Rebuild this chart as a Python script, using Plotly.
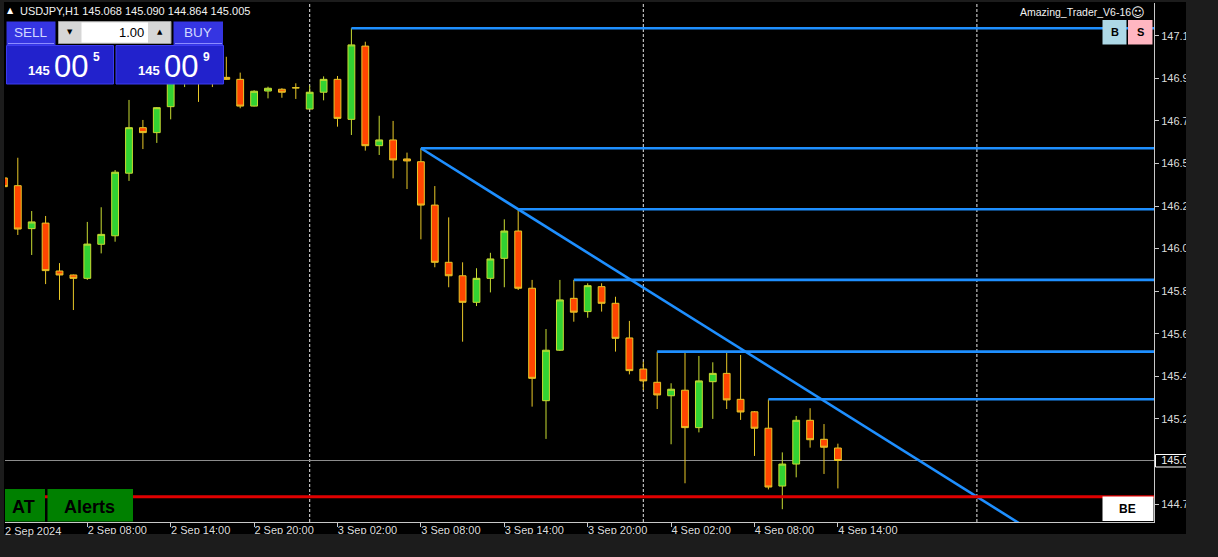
import pandas as pd
import plotly.graph_objects as go

# ---------------- data ----------------
symbol_title = "USDJPY,H1"
first_bar = "2024-09-02 02:00"

opens = [146.432, 146.393, 146.176, 146.204, 145.962, 145.942, 145.925, 146.097, 146.140, 146.456,
         146.686, 146.661, 146.792, 146.952, 146.987, 146.967, 146.940, 146.930, 146.795, 146.871,
         146.880, 146.888, 146.780, 146.865, 146.930, 146.728, 147.098, 146.595, 146.624, 146.528,
         146.514, 146.295, 146.006, 145.938, 145.804, 145.925, 146.026, 146.164, 145.875, 145.307,
         145.562, 145.824, 145.757, 145.883, 145.799, 145.624, 145.467, 145.400, 145.332, 145.360,
         145.171, 145.403, 145.445, 145.314, 145.251, 145.168, 144.876, 144.987, 145.208, 145.112,
         145.068]
highs = [146.447, 146.534, 146.265, 146.240, 146.002, 145.944, 146.210, 146.284, 146.472, 146.826,
         146.725, 146.790, 146.977, 147.028, 147.018, 147.008, 147.044, 146.964, 146.875, 146.893,
         146.885, 146.910, 146.899, 146.945, 146.947, 147.188, 147.120, 146.746, 146.720, 146.560,
         146.582, 146.391, 146.233, 146.006, 145.976, 146.054, 146.223, 146.274, 145.917, 145.669,
         145.917, 145.917, 145.900, 145.900, 145.832, 145.710, 145.504, 145.555, 145.395, 145.551,
         145.533, 145.501, 145.549, 145.538, 145.255, 145.314, 145.046, 145.230, 145.269, 145.189,
         145.090]
lows = [146.371, 146.144, 146.043, 145.896, 145.816, 145.765, 145.917, 146.051, 146.110, 146.417,
        146.578, 146.609, 146.728, 146.891, 146.816, 146.891, 146.927, 146.784, 146.793, 146.834,
        146.837, 146.831, 146.778, 146.824, 146.691, 146.649, 146.570, 146.548, 146.430, 146.376,
        146.122, 145.981, 145.880, 145.605, 145.785, 145.854, 145.880, 145.866, 145.277, 145.114,
        145.558, 145.706, 145.726, 145.757, 145.555, 145.440, 145.361, 145.265, 145.087, 144.890,
        145.147, 145.215, 145.265, 145.210, 145.028, 144.859, 144.759, 144.920, 145.070, 144.937,
        144.864]
closes = [146.388, 146.174, 146.210, 145.964, 145.942, 145.925, 146.098, 146.147, 146.461, 146.686,
          146.661, 146.787, 146.952, 146.987, 146.967, 146.940, 146.930, 146.795, 146.870, 146.885,
          146.865, 146.887, 146.865, 146.930, 146.733, 147.104, 146.595, 146.624, 146.523, 146.518,
          146.295, 146.006, 145.938, 145.804, 145.925, 146.023, 146.164, 145.875, 145.420, 145.562,
          145.816, 145.754, 145.888, 145.799, 145.622, 145.459, 145.407, 145.336, 145.365, 145.171,
          145.407, 145.445, 145.311, 145.250, 145.168, 144.871, 144.987, 145.208, 145.110, 145.072,
          145.005]

level_times = ["2024-09-03 03:00", "2024-09-03 08:00", "2024-09-03 15:00",
               "2024-09-03 19:00", "2024-09-04 01:00", "2024-09-04 09:00"]
level_prices = [147.188, 146.582, 146.274, 145.917, 145.555, 145.314]

trend_times = ["2024-09-03 08:00", "2024-09-03 15:00"]
trend_prices = [146.582, 146.274]

be_price = 144.822
bid_price = 145.005

day_breaks = ["2024-09-03 00:00", "2024-09-04 00:00", "2024-09-05 00:00"]

x_tick_times = ["2024-09-02 08:00", "2024-09-02 14:00", "2024-09-02 20:00", "2024-09-03 02:00",
                "2024-09-03 08:00", "2024-09-03 14:00", "2024-09-03 20:00", "2024-09-04 02:00",
                "2024-09-04 08:00", "2024-09-04 14:00"]
x_tick_labels = ["2 Sep 08:00", "2 Sep 14:00", "2 Sep 20:00", "3 Sep 02:00", "3 Sep 08:00",
                 "3 Sep 14:00", "3 Sep 20:00", "4 Sep 02:00", "4 Sep 08:00", "4 Sep 14:00"]
first_date_label = "2 Sep 2024"

y_tick_values = [147.150, 146.935, 146.720, 146.505, 146.290, 146.075, 145.860,
                 145.645, 145.430, 145.215, 144.785]

x_view = ["2024-09-02 02:04:45", "2024-09-05 12:44:28"]
y_view = [144.6944, 147.3156]

lot_text = "1.00"
sell_parts = ["145", "00", "5"]
buy_parts = ["145", "00", "9"]
indicator_name = "Amazing_Trader_V6-16"

# ---------------- figure ----------------
W, H = 1218, 557
PL, PR, PT, PB = 5, 1154, 3, 522
FONT = "Liberation Sans"


def fx(x):
    return (x - PL) / (PR - PL)


def fy(y):
    return (PB - y) / (PB - PT)


bar_times = pd.date_range(first_bar, periods=len(opens), freq="h")

fig = go.Figure()

fig.add_trace(go.Candlestick(
    x=bar_times, open=opens, high=highs, low=lows, close=closes,
    increasing=dict(fillcolor="#32d232", line=dict(color="#c8dc32", width=1)),
    decreasing=dict(fillcolor="#ff4500", line=dict(color="#e8c828", width=1)),
    whiskerwidth=0, showlegend=False, hoverinfo="skip"))

# horizontal resistance levels (start at the candle high, run to the right edge)
for t, p in zip(level_times, level_prices):
    fig.add_trace(go.Scatter(x=[t, x_view[1]], y=[p, p], mode="lines",
                             line=dict(color="#1e8fff", width=2.6),
                             showlegend=False, hoverinfo="skip"))

# trend line through two highs, extended to the right
t0, t1 = pd.Timestamp(trend_times[0]), pd.Timestamp(trend_times[1])
slope = (trend_prices[1] - trend_prices[0]) / ((t1 - t0) / pd.Timedelta(hours=1))
t_end = pd.Timestamp(x_view[1])
p_end = trend_prices[0] + slope * ((t_end - t0) / pd.Timedelta(hours=1))
fig.add_trace(go.Scatter(x=[t0, t_end], y=[trend_prices[0], p_end], mode="lines",
                         line=dict(color="#1e8fff", width=2.6),
                         showlegend=False, hoverinfo="skip"))

# break-even line
fig.add_trace(go.Scatter(x=[x_view[0], x_view[1]], y=[be_price, be_price], mode="lines",
                         line=dict(color="#e00000", width=2.8),
                         showlegend=False, hoverinfo="skip"))

# invisible trace that activates the bid-price axis
fig.add_trace(go.Scatter(x=[x_view[0]], y=[bid_price], yaxis="y2", mode="markers",
                         marker=dict(opacity=0), showlegend=False, hoverinfo="skip"))

shapes = []
annotations = []

# day separators
for d in day_breaks:
    shapes.append(dict(type="line", xref="x", yref="paper", x0=d, x1=d, y0=0, y1=1,
                       line=dict(color="#e6e6e6", width=1, dash="3px,2px"), layer="below"))
# bid line
shapes.append(dict(type="line", xref="paper", yref="y", x0=0, x1=1, y0=bid_price, y1=bid_price,
                   line=dict(color="#8c8c8c", width=1), layer="below"))


def rect(x0, y0, x1, y1, fill, line=None, lw=1, layer="above"):
    shapes.append(dict(type="rect", xref="paper", yref="paper",
                       x0=fx(x0), x1=fx(x1), y0=fy(y1), y1=fy(y0),
                       fillcolor=fill, layer=layer,
                       line=dict(color=line if line else fill, width=lw if line else 0)))


def hline(x0, x1, y, color, w=1):
    shapes.append(dict(type="line", xref="paper", yref="paper", x0=fx(x0), x1=fx(x1),
                       y0=fy(y), y1=fy(y), line=dict(color=color, width=w), layer="above"))


def txt(x, y, s, size, color, bold=False, xanchor="left", family=FONT):
    annotations.append(dict(xref="paper", yref="paper", x=fx(x), y=fy(y),
                            text=("<b>%s</b>" % s) if bold else s, showarrow=False,
                            xanchor=xanchor, yanchor="middle", borderpad=0,
                            font=dict(size=size, color=color, family=family)))


# ---- one click trading panel ----
rect(6.5, 21.5, 55.5, 45, "#3535e2")
hline(8, 54, 43.5, "#8c8cff")
rect(173.5, 21.5, 223, 45, "#3535e2")
hline(175, 222, 43.5, "#8c8cff")
rect(58.5, 21.5, 171, 43.5, "#d6d6d6", "#9a9a9a")
rect(81.5, 22.5, 148, 42.5, "#ffffff")
rect(6.5, 45.5, 113.5, 84, "#2222cc", "#3c3cf0")
rect(116, 45.5, 223.5, 84, "#2222cc", "#3c3cf0")
txt(31, 33, "SELL", 13.5, "#d2d8ff", xanchor="center")
txt(198, 33, "BUY", 13.5, "#d2d8ff", xanchor="center")
txt(70, 32, "▼", 7, "#000000", xanchor="center", family="DejaVu Sans")
txt(159.5, 32, "▲", 7, "#000000", xanchor="center", family="DejaVu Sans")
txt(145, 32.5, lot_text, 13, "#000000", xanchor="right")
for x0, parts in ((26.5, sell_parts), (136.5, buy_parts)):
    txt(x0, 71, parts[0], 13, "#ffffff", bold=True)
    txt(x0 + 26.5, 66.5, parts[1], 31, "#ffffff")
    txt(x0 + 65, 57.5, parts[2], 12, "#ffffff", bold=True)

# ---- header texts ----
txt(10.5, 10.5, "▲", 8, "#ffffff", xanchor="center", family="DejaVu Sans")
txt(19, 11.3, "%s %.3f %.3f %.3f %.3f" % (symbol_title, opens[-1], highs[-1], lows[-1], closes[-1]),
    11, "#f2f2f2")
txt(1131.5, 12.3, indicator_name, 10.5, "#f2f2f2", xanchor="right")
txt(1138.4, 12.3, "☺", 13, "#f2f2f2", xanchor="center", family="DejaVu Sans")

# ---- B / S boxes ----
rect(1102.5, 20, 1126.5, 44.5, "#add8e6")
rect(1128, 20, 1152.5, 44.5, "#ffb6c1")
txt(1114.5, 32.5, "B", 11, "#000000", bold=True, xanchor="center")
txt(1140.3, 32.5, "S", 11, "#000000", bold=True, xanchor="center")

# ---- bottom boxes ----
rect(5, 489, 45, 521.5, "#008000")
rect(47.5, 489, 133, 521.5, "#008000")
txt(23, 506.5, "AT", 18, "#000000", bold=True, xanchor="center")
txt(89.5, 506.5, "Alerts", 18, "#000000", bold=True, xanchor="center")
rect(1102.5, 496.5, 1153.5, 521, "#ffffff")
txt(1127.5, 509, "BE", 12, "#000000", bold=True, xanchor="center")

# ---- bid price label box on the axis (label itself is a tick of yaxis2) ----
rect(1155.5, 454.5, 1192, 467, "#000000", "#ffffff", layer="below")

# ---- window frame (outside the chart window) ----
FRAME = "#1c1c1c"
rect(1186, -5, 1225, 562, FRAME)
rect(-5, 534, 1225, 562, FRAME)
rect(-5, -5, 4, 562, FRAME)
rect(-5, -5, 1225, 2, FRAME)

txt(4, 531, first_date_label, 11, "#dcdcdc")

axis_font = dict(family=FONT, size=11, color="#dcdcdc")
fig.update_layout(
    width=W, height=H,
    margin=dict(l=PL, r=W - PR, t=PT, b=H - PB),
    paper_bgcolor="#000000", plot_bgcolor="#000000",
    showlegend=False,
    shapes=shapes, annotations=annotations,
    xaxis=dict(type="date", range=x_view, rangeslider=dict(visible=False),
               showgrid=False, zeroline=False, showline=True, linecolor="#c8c8c8", linewidth=1,
               ticks="outside", ticklen=4, tickcolor="#c8c8c8", tickwidth=1,
               tickmode="array", tickvals=x_tick_times, ticktext=x_tick_labels,
               tickfont=axis_font, ticklabelshift=30, ticklabelstandoff=-6,
               fixedrange=True),
    yaxis=dict(side="right", range=y_view, showgrid=False, zeroline=False,
               showline=True, linecolor="#c8c8c8", linewidth=1,
               ticks="outside", ticklen=4, tickcolor="#c8c8c8", tickwidth=1,
               tickmode="array", tickvals=y_tick_values,
               ticktext=["%.3f" % v for v in y_tick_values],
               tickfont=axis_font, fixedrange=True),
    yaxis2=dict(overlaying="y", side="right", range=y_view, showgrid=False, zeroline=False,
                showline=False, ticks="outside", ticklen=4, tickcolor="rgba(0,0,0,0)",
                tickmode="array", tickvals=[bid_price], ticktext=["%.3f" % bid_price],
                tickfont=dict(family=FONT, size=11, color="#eeeeee"), fixedrange=True),
)

fig.write_html("out.html", config={"displayModeBar": False},
               post_script="document.body.style.margin='0';"
                           "document.body.style.background='#1c1c1c';")
